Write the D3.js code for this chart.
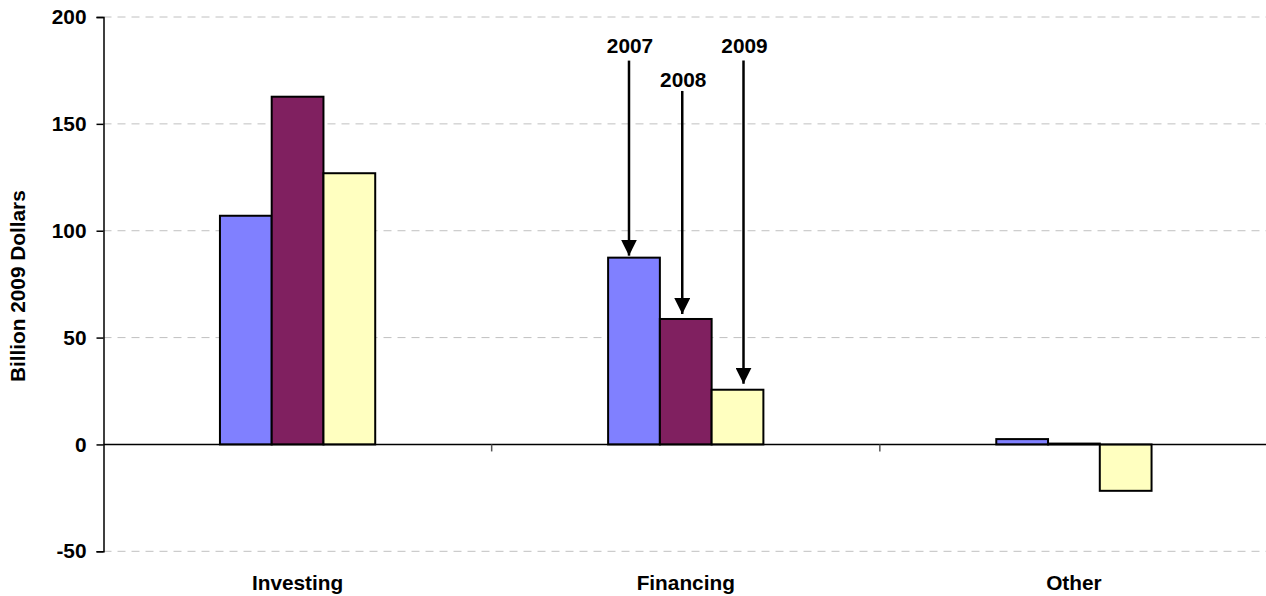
<!DOCTYPE html>
<html>
<head>
<meta charset="utf-8">
<script src="https://cdn.jsdelivr.net/npm/d3@7"></script>
<style>
  html, body { margin: 0; padding: 0; background: #fff; }
  svg { display: block; }
  text { font-family: Arial, "Liberation Sans", sans-serif; font-weight: bold; fill: #000; }
</style>
</head>
<body>
<svg id="chart" width="1266" height="596"></svg>
<script>
// ---- data ----
const categories = ["Investing", "Financing", "Other"];
const years = ["2007", "2008", "2009"];
const values2007 = [107, 87.4, 2.5];
const values2008 = [162.7, 58.7, 0.4];
const values2009 = [126.9, 25.6, -21.7];
const yTicks = [-50, 0, 50, 100, 150, 200];
const yTitle = "Billion 2009 Dollars";
// annotations on the Financing group: label, label baseline value, line top value
const annoYears = ["2007", "2008", "2009"];
const annoLabelValue = [183.2, 167.4, 183.2];
const annoLineTopValue = [179.6, 165.4, 179.6];
const annoCategory = "Financing";

const seriesValues = [values2007, values2008, values2009];
const colors = ["#8080FF", "#802060", "#FFFFC0"];

(function () {
const svg = d3.select("#chart");
const mLeft = 103.5, mRight = 1268, mTop = 17, mBottom = 551.3;
const fs = "20.8px";

const y = d3.scaleLinear().domain([-50, 200]).range([mBottom, mTop]);
const x = d3.scaleBand().domain(categories).range([mLeft, mRight]).padding(0);
const groupW = x.bandwidth() * 0.4;
const xInner = d3.scaleBand().domain(years).range([0, groupW]).padding(0);
const groupStart = c => x(c) + (x.bandwidth() - groupW) / 2;

// gridlines
svg.append("g").selectAll("line")
  .data(yTicks.filter(t => t !== 0))
  .join("line")
  .attr("x1", mLeft).attr("x2", 1266)
  .attr("y1", d => y(d)).attr("y2", d => y(d))
  .attr("stroke", "#c0c0c0").attr("stroke-width", 1)
  .attr("stroke-dasharray", "8,6");

// y axis
const yAxis = d3.axisLeft(y).tickValues(yTicks).tickSize(7).tickPadding(10).tickFormat(d => String(d));
const gy = svg.append("g").attr("transform", `translate(${mLeft},0)`).call(yAxis);
gy.select(".domain").attr("stroke", "#000").attr("stroke-width", 1.5);
gy.selectAll(".tick line").attr("stroke", "#000").attr("stroke-width", 1.5);
gy.selectAll(".tick text").style("font-size", fs).style("font-weight", "bold")
  .style("font-family", "Arial, 'Liberation Sans', sans-serif").attr("fill", "#000");

// bars
years.forEach((yr, i) => {
  svg.append("g").selectAll("rect")
    .data(categories.map((c, j) => ({ c, v: seriesValues[i][j] })))
    .join("rect")
    .attr("x", d => groupStart(d.c) + xInner(yr))
    .attr("width", xInner.bandwidth())
    .attr("y", d => y(Math.max(0, d.v)))
    .attr("height", d => Math.abs(y(d.v) - y(0)))
    .attr("fill", colors[i])
    .attr("stroke", "#000").attr("stroke-width", 2);
});

// zero line
svg.append("line")
  .attr("x1", mLeft).attr("x2", 1266)
  .attr("y1", y(0)).attr("y2", y(0))
  .attr("stroke", "#000").attr("stroke-width", 1.5);
// category boundary ticks
svg.append("g").selectAll("line")
  .data(categories.slice(1))
  .join("line")
  .attr("x1", d => x(d)).attr("x2", d => x(d))
  .attr("y1", y(0)).attr("y2", y(0) + 7)
  .attr("stroke", "#555").attr("stroke-width", 1.5);

// category labels
svg.append("g").selectAll("text")
  .data(categories)
  .join("text")
  .attr("x", d => x(d) + x.bandwidth() / 2)
  .attr("y", 590)
  .attr("text-anchor", "middle")
  .style("font-size", fs)
  .text(d => d);

// y title
svg.append("text")
  .attr("transform", `translate(25,${(mTop + mBottom) / 2 + 2}) rotate(-90)`)
  .attr("text-anchor", "middle")
  .style("font-size", fs)
  .text(yTitle);

// annotations
const defs = svg.append("defs");
defs.append("marker")
  .attr("id", "arrow").attr("viewBox", "0 0 16 16")
  .attr("refX", 16).attr("refY", 8)
  .attr("markerWidth", 16).attr("markerHeight", 16)
  .attr("markerUnits", "userSpaceOnUse")
  .attr("orient", "auto")
  .append("path").attr("d", "M0,0 L16,8 L0,16 Z").attr("fill", "#000");

const annoOffsets = [-5, -3.5, 6];
const annoGaps = [2, 5, 6];
annoYears.forEach((yr, i) => {
  const j = categories.indexOf(annoCategory);
  const v = seriesValues[years.indexOf(yr)][j];
  const cx = groupStart(annoCategory) + xInner(yr) + xInner.bandwidth() / 2 + annoOffsets[i];
  svg.append("line")
    .attr("x1", cx).attr("x2", cx)
    .attr("y1", y(annoLineTopValue[i]))
    .attr("y2", y(v) - annoGaps[i])
    .attr("stroke", "#000").attr("stroke-width", 2.5)
    .attr("marker-end", "url(#arrow)");
  svg.append("text")
    .attr("x", cx + 1).attr("y", y(annoLabelValue[i]))
    .attr("text-anchor", "middle")
    .style("font-size", fs)
    .text(yr);
});
})();
</script>
</body>
</html>
